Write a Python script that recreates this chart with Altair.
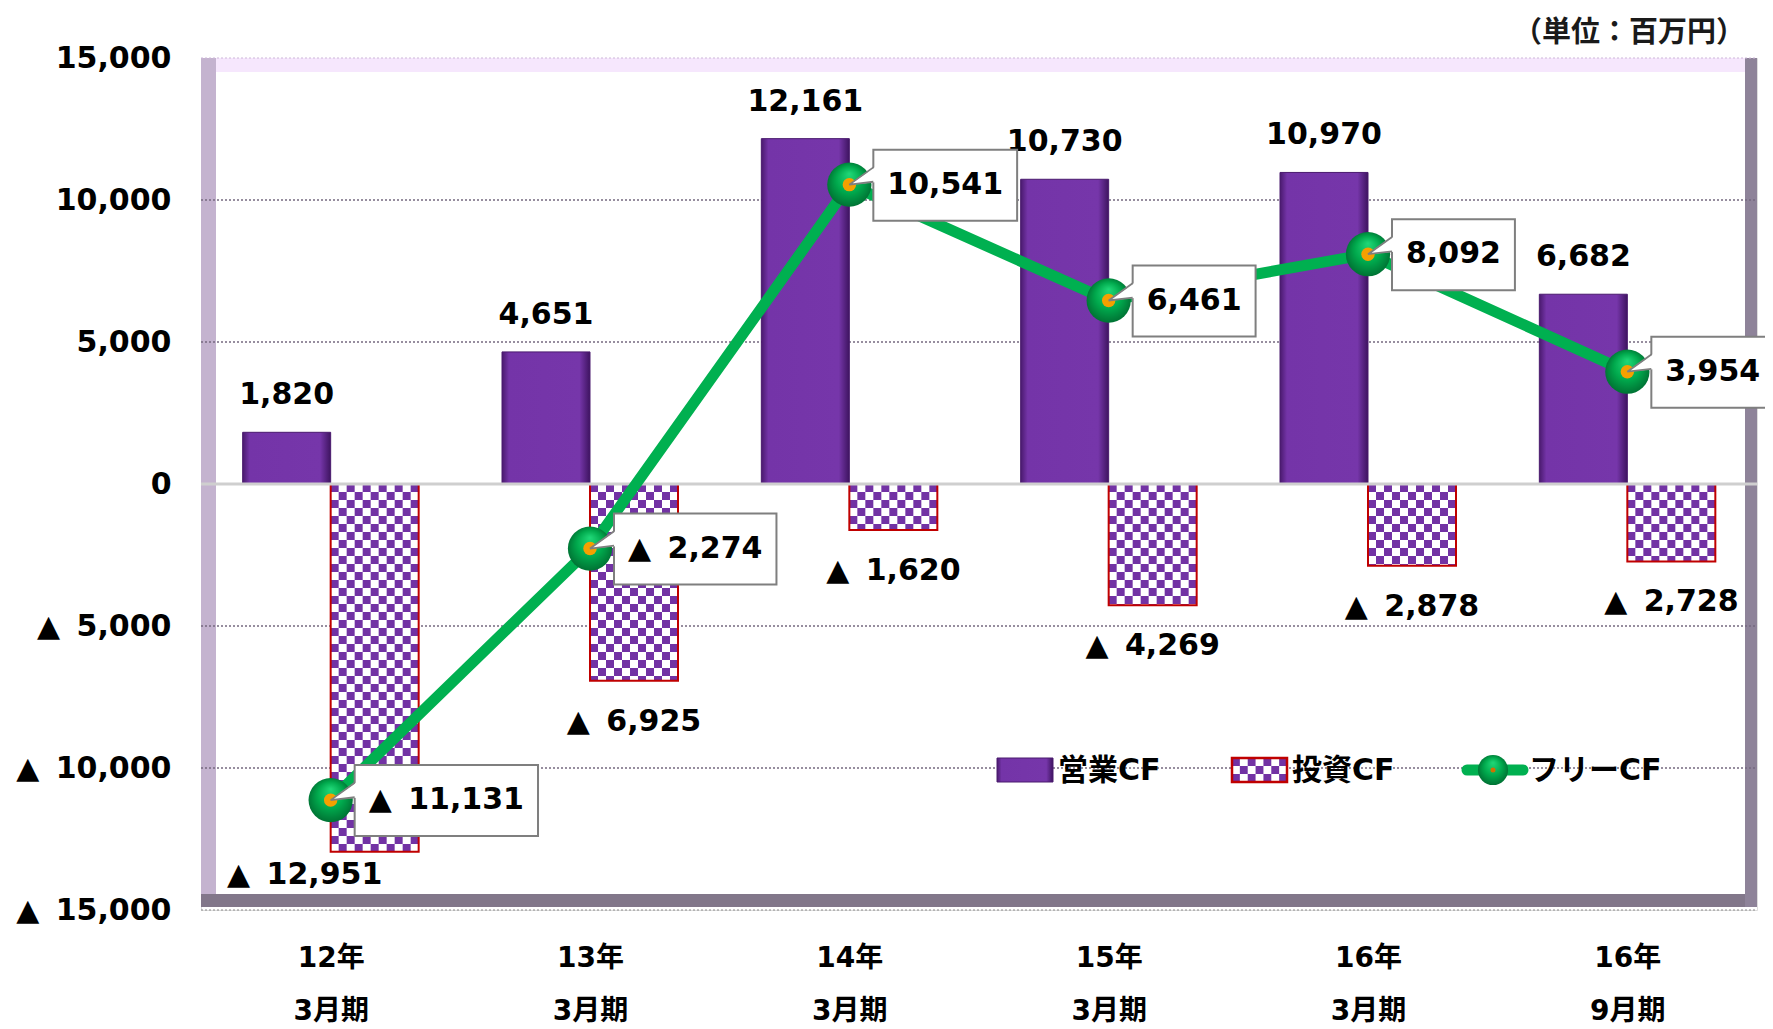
import json
import math
import altair as alt
import pandas as pd

# ---------------- data ----------------
period_year = ["12年", "13年", "14年", "15年", "16年", "16年"]
period_month = ["3月期", "3月期", "3月期", "3月期", "3月期", "9月期"]
operating_cf = [1820, 4651, 12161, 10730, 10970, 6682]
investing_cf = [-12951, -6925, -1620, -4269, -2878, -2728]
free_cf = [-11131, -2274, 10541, 6461, 8092, 3954]
series_names = ["営業CF", "投資CF", "フリーCF"]
unit_label = "（単位：百万円）"
y_ticks = [-15000, -10000, -5000, 0, 5000, 10000, 15000]

# ---------------- layout / style ----------------
W, H = 1556, 852
NCAT = len(period_year)
PPU = W / NCAT            # px per x unit
UPY = 30000 / H           # y units per px
BAR = 88 / PPU            # bar width in x units
FONT = "DejaVu Sans, Noto Sans CJK JP"
CJK = "Noto Sans CJK JP"
PURPLE = "#7232A4"
GREEN = "#00B050"
RED = "#C00000"
BG = "#EEDAFB"
NEG = "▲ \u2009"


def fmt(v):
    return f"{NEG}{-v:,}" if v < 0 else f"{v:,}"


CHW = {",": 0.38, " ": 0.348, "\u2009": 0.2, "▲": 0.77}


def text_px(s, size=30):
    return sum(CHW.get(ch, 0.696) for ch in s) * size


xs = alt.Scale(domain=[0, NCAT], nice=False, zero=False)
ys = alt.Scale(domain=[-15000, 15000], nice=False, zero=False)

cat_labels = json.dumps([f"{a}|{b}" for a, b in zip(period_year, period_month)], ensure_ascii=False)
xaxis = alt.Axis(
    values=[i + 0.5 for i in range(NCAT)],
    labelExpr=f"split({cat_labels}[floor(datum.value)], '|')",
    domain=False, ticks=False, grid=False, title=None,
    labelFont=FONT, labelFontSize=28, labelFontWeight="bold", labelColor="black",
    labelPadding=34, labelLineHeight=53, labelFlush=False, labelOverlap=False,
)
yaxis = alt.Axis(
    values=y_ticks,
    labelExpr=f"datum.value < 0 ? '{NEG}' + format(-datum.value, ',') : format(datum.value, ',')",
    domain=False, ticks=False, grid=False, title=None,
    labelFont=FONT, labelFontSize=30, labelFontWeight="bold", labelColor="black",
    labelPadding=30, labelOverlap=False, labelFlush=False,
)


def X(f):
    return alt.X(f, type="quantitative", scale=xs, axis=xaxis)


def Y(f):
    return alt.Y(f, type="quantitative", scale=ys, axis=yaxis)


one = pd.DataFrame({"d": [0]})

# ---------------- tables ----------------
centers = [i + 0.5 for i in range(NCAT)]
op_df = pd.DataFrame({
    "x": [c - BAR for c in centers], "x2": centers,
    "xc": [c - BAR / 2 for c in centers],
    "y": [0] * NCAT, "y2": operating_cf,
    "label": [fmt(v) for v in operating_cf],
})
inv_df = pd.DataFrame({
    "x": centers, "x2": [c + BAR for c in centers],
    "xc": [c + BAR / 2 for c in centers],
    "y": [0] * NCAT, "y2": investing_cf,
    "label": [fmt(v) for v in investing_cf],
})
free_labels = [fmt(v) for v in free_cf]
free_df = pd.DataFrame({
    "x": centers, "y": free_cf, "label": free_labels,
    "bx1": [c + 24 / PPU for c in centers],
    "bx2": [c + (24 + text_px(s) + 28) / PPU for c, s in zip(centers, free_labels)],
    "tx": [c + (24 + 14) / PPU for c in centers],
})

# checker cells for investing bars
CELL = 8
NCOL = 11
cw = BAR / NCOL
ch = CELL * UPY
cells = []
for c, v in zip(centers, investing_cf):
    nrows = int(math.ceil(-v / ch))
    for r in range(nrows):
        for k in range(NCOL):
            if (r + k) % 2 == 0:
                cells.append({"x": c + k * cw, "x2": c + (k + 1) * cw,
                              "y": -r * ch, "y2": max(v, -(r + 1) * ch)})
cells_df = pd.DataFrame(cells)

op_grad = alt.LinearGradient(
    gradient="linear", x1=0, x2=1, y1=0, y2=0,
    stops=[alt.GradientStop(color="#4A1A6E", offset=0),
           alt.GradientStop(color="#7434A8", offset=0.08),
           alt.GradientStop(color="#7636AA", offset=0.88),
           alt.GradientStop(color="#3E1460", offset=1)])
ball_grad = alt.RadialGradient(
    gradient="radial", x1=0.5, y1=0.25, r1=0, x2=0.5, y2=0.5, r2=0.55,
    stops=[alt.GradientStop(color="#20D878", offset=0),
           alt.GradientStop(color="#00A84C", offset=0.55),
           alt.GradientStop(color="#006A30", offset=1)])

layers = []

# ---------------- 3D walls ----------------
def prect(x1, x2, y1, y2, color):
    return alt.Chart(one).mark_rect(color=color, opacity=1).encode(
        x=alt.value(x1), x2=alt.value(x2), y=alt.value(y1), y2=alt.value(y2))


layers += [
    prect(0, 15, 0, 849, "#C4B3CF"),
    prect(15, 1544, 0, 14, "#F6E7FD"),
    prect(0, 1556, 836, 849, "#82778A"),
    prect(1544, 1556, 0, 849, "#8E8399"),
]

# ---------------- grid ----------------
grid_df = pd.DataFrame({"v": [t for t in y_ticks if t not in (0, 15000, -15000)]})
layers.append(alt.Chart(grid_df).mark_rule(color="#756A80", strokeWidth=1.3, strokeDash=[2, 2]).encode(
    y=Y("v"), x=alt.value(0), x2=alt.value(W)))
layers.append(alt.Chart(pd.DataFrame({"v": [15000]})).mark_rule(color="#CDB8DA", strokeWidth=1.2, strokeDash=[2, 2]).encode(
    y=Y("v"), x=alt.value(0), x2=alt.value(W)))
layers.append(alt.Chart(pd.DataFrame({"v": [-15000]})).mark_rule(color="#8A8A8A", strokeWidth=1.2, strokeDash=[2, 2]).encode(
    y=Y("v"), x=alt.value(0), x2=alt.value(W)))

# ---------------- bars ----------------
layers.append(alt.Chart(op_df).mark_rect(fill=op_grad, stroke="#4A1A6E", strokeWidth=1).encode(
    x=X("x"), x2=alt.X2("x2"), y=Y("y"), y2=alt.Y2("y2")))
layers.append(alt.Chart(inv_df).mark_rect(color="white", opacity=1).encode(
    x=X("x"), x2=alt.X2("x2"), y=Y("y"), y2=alt.Y2("y2")))
layers.append(alt.Chart(cells_df).mark_rect(color=PURPLE, opacity=1).encode(
    x=X("x"), x2=alt.X2("x2"), y=Y("y"), y2=alt.Y2("y2")))
layers.append(alt.Chart(inv_df).mark_rect(fill="transparent", stroke=RED, strokeWidth=2).encode(
    x=X("x"), x2=alt.X2("x2"), y=Y("y"), y2=alt.Y2("y2")))

# zero line
layers.append(alt.Chart(pd.DataFrame({"v": [0]})).mark_rule(color="#CFCFCF", strokeWidth=3).encode(
    y=Y("v"), x=alt.value(0), x2=alt.value(W)))

# ---------------- bar labels ----------------
lab_style = dict(font=FONT, fontSize=30, fontWeight="bold", color="black", baseline="middle", align="center")
layers.append(alt.Chart(op_df).mark_text(dy=-37, **lab_style).encode(
    x=X("xc"), y=Y("y2"), text="label:N"))
layers.append(alt.Chart(inv_df.iloc[1:]).mark_text(dy=41, **lab_style).encode(
    x=X("xc"), y=Y("y2"), text="label:N"))
layers.append(alt.Chart(inv_df.iloc[[0]]).mark_text(dx=-70, dy=23, **lab_style).encode(
    x=X("xc"), y=Y("y2"), text="label:N"))

# ---------------- free CF line ----------------
layers.append(alt.Chart(free_df).mark_line(color=GREEN, strokeWidth=11, strokeCap="round", strokeJoin="round").encode(
    x=X("x"), y=Y("y")))
layers.append(alt.Chart(free_df).mark_point(shape="circle", size=1960, filled=True, fill=ball_grad, strokeWidth=0, opacity=1).encode(
    x=X("x"), y=Y("y")))
layers.append(alt.Chart(free_df).mark_point(shape="circle", size=180, filled=True, color="#F5A000", opacity=1).encode(
    x=X("x"), y=Y("y")))

# callouts
layers.append(alt.Chart(free_df).mark_rect(color="white", stroke="#7F7F7F", strokeWidth=2, opacity=1,
                                           yOffset=-35, y2Offset=36).encode(
    x=X("bx1"), x2=alt.X2("bx2"), y=Y("y"), y2=alt.Y2("y")))
layers.append(alt.Chart(free_df).mark_point(shape="M0,0L1.08,-0.74L1.08,-0.1Z", size=2304, filled=True,
                                            color="white", strokeWidth=0, opacity=1).encode(
    x=X("x"), y=Y("y")))
layers.append(alt.Chart(free_df).mark_point(shape="M1,-0.72L0,0L1,-0.12", size=2304, filled=False,
                                            color="#7F7F7F", strokeWidth=1.8, opacity=1).encode(
    x=X("x"), y=Y("y")))
layers.append(alt.Chart(free_df).mark_text(font=FONT, fontSize=30, fontWeight="bold", color="black",
                                           baseline="middle", align="left").encode(
    x=X("tx"), y=Y("y"), text="label:N"))

# ---------------- legend ----------------
LY = 712
layers.append(alt.Chart(one).mark_rect(fill=op_grad, stroke="#4A1A6E", strokeWidth=1).encode(
    x=alt.value(796), x2=alt.value(852), y=alt.value(LY - 12), y2=alt.value(LY + 12)))
layers.append(prect(1031, 1086, LY - 12, LY + 12, "white"))
lcells = []
lw = 55 / 7
for r in range(3):
    for k in range(7):
        if (r + k) % 2 == 0:
            lcells.append({"px": 1031 + k * lw, "px2": 1031 + (k + 1) * lw,
                           "py": LY - 12 + r * 8, "py2": LY - 12 + (r + 1) * 8})
layers.append(alt.Chart(pd.DataFrame(lcells)).mark_rect(color=PURPLE, opacity=1).encode(
    x=alt.X("px:Q", scale=None), x2="px2:Q", y=alt.Y("py:Q", scale=None), y2="py2:Q"))
layers.append(alt.Chart(one).mark_rect(fill="transparent", stroke=RED, strokeWidth=2.5).encode(
    x=alt.value(1031), x2=alt.value(1086), y=alt.value(LY - 12), y2=alt.value(LY + 12)))
layers.append(alt.Chart(one).mark_rule(color=GREEN, strokeWidth=11, strokeCap="round").encode(
    x=alt.value(1266), x2=alt.value(1322), y=alt.value(LY)))
layers.append(alt.Chart(one).mark_point(shape="circle", size=908, filled=True, fill=ball_grad, strokeWidth=0, opacity=1).encode(
    x=alt.value(1292), y=alt.value(LY)))
layers.append(alt.Chart(one).mark_point(shape="circle", size=25, filled=True, color="#D07000", opacity=1).encode(
    x=alt.value(1292), y=alt.value(LY)))
for name, lx in zip(series_names, [857, 1091, 1328]):
    layers.append(alt.Chart(one).mark_text(font=FONT, fontSize=30, fontWeight="bold", color="black",
                                           baseline="middle", align="left").encode(
        x=alt.value(lx), y=alt.value(LY + 1), text=alt.value(name)))

# unit label
layers.append(alt.Chart(one).mark_text(font=CJK, fontSize=29, fontWeight="bold", color="#1A1A1A",
                                       baseline="middle", align="right").encode(
    x=alt.value(1544), y=alt.value(-25), text=alt.value(unit_label)))

chart = alt.layer(*layers).properties(
    width=W, height=H,
    padding={"left": 193, "top": 50, "right": 8, "bottom": 126},
    autosize=alt.AutoSizeParams(type="none"),
).configure_view(stroke=None, fill=BG).configure(background="white")

chart.save("out.html", embed_options={"renderer": "svg", "actions": False})
